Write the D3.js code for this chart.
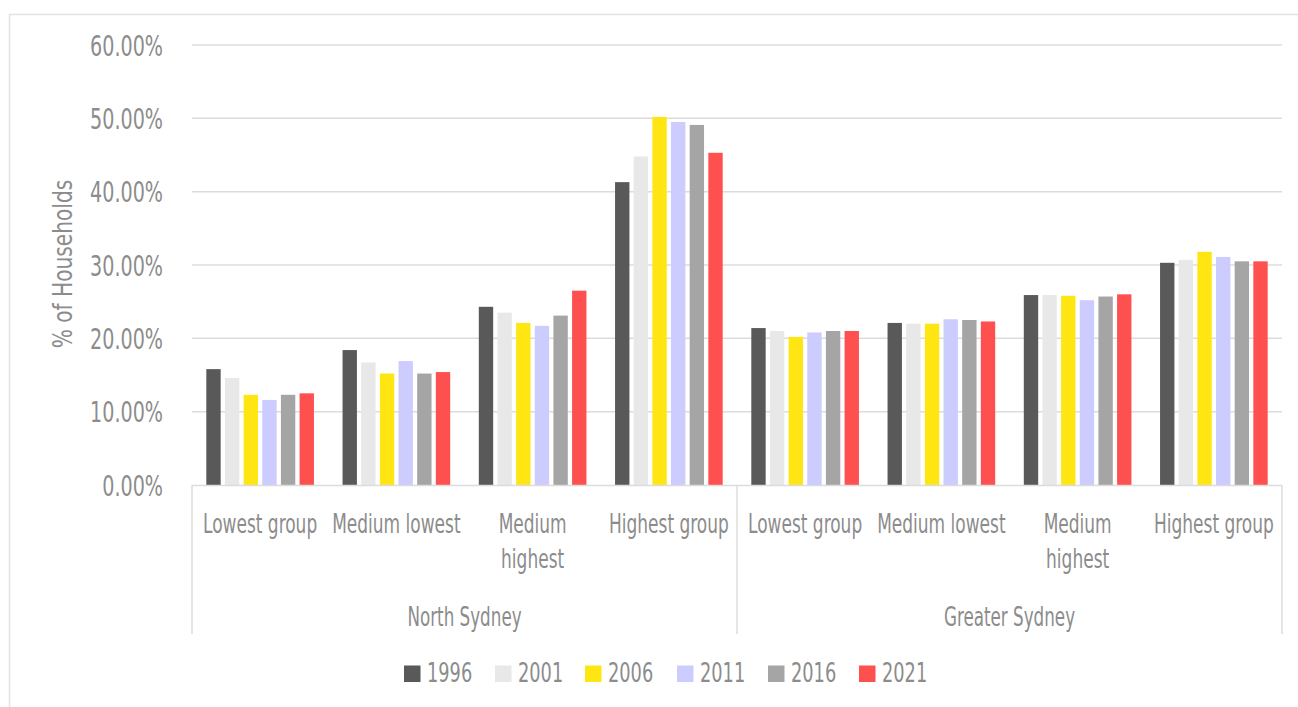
<!DOCTYPE html>
<html>
<head>
<meta charset="utf-8">
<script src="https://cdn.jsdelivr.net/npm/d3@7"></script>
<style>
  html, body { margin: 0; padding: 0; background: #fff; }
  svg text { font-family: "DejaVu Sans Condensed", "Liberation Sans Narrow", "Roboto", sans-serif; fill: #8c8c8c; }
</style>
</head>
<body>
<svg id="chart" width="1298" height="707"></svg>
<script>
const regions = ["North Sydney", "Greater Sydney"];
const groups = ["Lowest group", "Medium lowest", "Medium highest", "Highest group"];
const groupLabelLines = [["Lowest group"], ["Medium lowest"], ["Medium", "highest"], ["Highest group"]];
const years = ["1996", "2001", "2006", "2011", "2016", "2021"];
const colors = ["#595959", "#e8e8e8", "#ffe612", "#ccccff", "#a5a5a5", "#ff5050"];
const yTicks = [0, 0.1, 0.2, 0.3, 0.4, 0.5, 0.6];

// values per year, 8 categories: North Sydney x4, Greater Sydney x4
const v1996 = [0.158, 0.184, 0.243, 0.413, 0.214, 0.221, 0.259, 0.303];
const v2001 = [0.146, 0.167, 0.235, 0.448, 0.210, 0.220, 0.259, 0.307];
const v2006 = [0.123, 0.152, 0.221, 0.502, 0.202, 0.220, 0.258, 0.318];
const v2011 = [0.116, 0.169, 0.217, 0.495, 0.208, 0.226, 0.252, 0.311];
const v2016 = [0.123, 0.152, 0.231, 0.491, 0.210, 0.225, 0.257, 0.305];
const v2021 = [0.125, 0.154, 0.265, 0.453, 0.210, 0.223, 0.260, 0.305];
const seriesValues = [v1996, v2001, v2006, v2011, v2016, v2021];

const svg = d3.select("#chart");

// outer border
svg.append("rect").attr("x", 9.5).attr("y", 14.5).attr("width", 1300).attr("height", 700)
  .attr("fill", "none").attr("stroke", "#e3e3e3").attr("stroke-width", 1.5);

const pLeft = 192, pRight = 1282, pTop = 45, pBottom = 485;

const categories = [];
regions.forEach((r, ri) => groups.forEach((g, gi) => categories.push({ key: r + "|" + g, region: r, ri, gi })));

const x0 = d3.scaleBand().domain(categories.map(d => d.key)).range([pLeft, pRight]).paddingInner(0.21).paddingOuter(0.105);
const x1 = d3.scaleBand().domain(years).range([0, x0.bandwidth()]).paddingInner(0.23);
const y = d3.scaleLinear().domain([0, 0.6]).range([pBottom, pTop]);

// gridlines
svg.append("g").selectAll("line").data(yTicks.slice(1)).join("line")
  .attr("x1", pLeft).attr("x2", pRight)
  .attr("y1", d => y(d)).attr("y2", d => y(d))
  .attr("stroke", "#dcdcdc").attr("stroke-width", 1.5);

// y axis labels (condensed look via horizontal scale)
const yAxis = d3.axisLeft(y).tickValues(yTicks).tickFormat(d => (d * 100).toFixed(2) + "%").tickSize(0).tickPadding(0);
const yg = svg.append("g").attr("transform", `translate(${163},0)`).call(yAxis);
yg.select(".domain").remove();
yg.selectAll("text").attr("font-size", 28).attr("fill", "#8c8c8c").attr("dy", "0.36em")
  .attr("font-family", "'DejaVu Sans Condensed', sans-serif")
  .attr("transform", "scale(0.76,1)");

// y title
svg.append("text").attr("transform", `translate(72,264) rotate(-90) scale(0.83,1)`)
  .attr("text-anchor", "middle").attr("font-size", 27).text("% of Households");

// bars
const barG = svg.append("g");
years.forEach((yr, si) => {
  barG.append("g").selectAll("rect").data(categories).join("rect")
    .attr("x", (d) => x0(d.key) + x1(yr))
    .attr("width", x1.bandwidth())
    .attr("y", (d, i) => y(seriesValues[si][i]))
    .attr("height", (d, i) => pBottom - y(seriesValues[si][i]))
    .attr("fill", colors[si]);
});

// category axis
const axisBottom = 634;
svg.append("line").attr("x1", pLeft).attr("x2", pRight).attr("y1", pBottom + 0.5).attr("y2", pBottom + 0.5)
  .attr("stroke", "#dcdcdc").attr("stroke-width", 1.5);
const regionScale = d3.scaleBand().domain(regions).range([pLeft, pRight]);
const seps = [pLeft, regionScale("Greater Sydney"), pRight];
svg.append("g").selectAll("line").data(seps).join("line")
  .attr("x1", d => d).attr("x2", d => d).attr("y1", pBottom).attr("y2", axisBottom)
  .attr("stroke", "#dcdcdc").attr("stroke-width", 1.5);

// category labels
const catLabels = svg.append("g");
categories.forEach((c, i) => {
  const cx = x0(c.key) + x0.bandwidth() / 2;
  const t = catLabels.append("text").attr("text-anchor", "middle").attr("font-size", 27)
    .attr("transform", `translate(${cx},533) scale(0.7,1)`);
  groupLabelLines[c.gi].forEach((ln, li) => {
    t.append("tspan").attr("x", 0).attr("dy", li === 0 ? 0 : 35).text(ln);
  });
});

// region labels
svg.append("g").selectAll("text").data(regions).join("text")
  .attr("transform", d => `translate(${regionScale(d) + regionScale.bandwidth() / 2},626) scale(0.69,1)`)
  .attr("text-anchor", "middle").attr("font-size", 27).text(d => d);

// legend
const legendX = [404, 495, 585, 677, 768, 859];
const lg = svg.append("g");
years.forEach((yr, i) => {
  const g = lg.append("g").attr("transform", `translate(${legendX[i]},0)`);
  g.append("rect").attr("x", 0).attr("y", 665.5).attr("width", 16.5).attr("height", 16.5).attr("fill", colors[i]);
  g.append("text").attr("transform", "translate(23,682) scale(0.76,1)").attr("font-size", 26).text(yr);
});
</script>
</body>
</html>
